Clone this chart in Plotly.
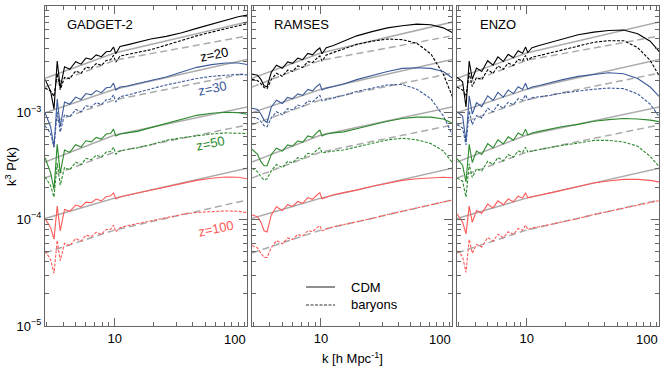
import plotly.graph_objects as go

# ---------------- data (values in units of 1e-4) ----------------
UNIT = 1e-4

# linear-theory reference lines (gray)
K_LIN = [2.9, 4, 6, 10, 16, 25, 40, 65, 106]
lin_z20_cdm = [21.0, 24.2, 29.0, 36.3, 41.5, 47.1, 53.7, 61.7, 70.8]
lin_z20_bar = [17.4, 20.2, 24.4, 31.0, 34.4, 38.0, 42.2, 47.1, 52.5]
lin_z30_cdm = [10.0, 11.4, 13.5, 16.6, 18.9, 21.3, 24.2, 27.7, 31.6]
lin_z30_bar = [7.71, 8.87, 10.6, 13.2, 14.8, 16.5, 18.5, 20.8, 23.5]
lin_z50_cdm = [3.45, 4.02, 4.85, 6.17, 6.95, 7.80, 8.79, 9.98, 11.3]
lin_z50_bar = [2.44, 2.82, 3.39, 4.27, 4.80, 5.36, 6.03, 6.79, 7.67]
lin_z100_cdm = [1.02, 1.15, 1.32, 1.58, 1.80, 2.04, 2.31, 2.64, 3.02]
lin_z100_bar = [0.484, 0.551, 0.647, 0.794, 0.904, 1.02, 1.16, 1.33, 1.52]

# simulation measurements
K_SIM = [2.9, 3.2, 3.4, 3.6, 3.8, 4.1, 4.5, 5.0, 5.5, 6.0, 6.6, 7.2, 7.9, 8.6,
         9.3, 9.8, 10.2, 11, 12.5, 15, 19, 25, 33, 43, 56, 72, 90, 106]

# GADGET-2
g_z20_cdm = [20.5, 15.9, 10.8, 30.5, 17.1, 26.9, 25.5, 30.0, 28.5, 32.5, 31.6, 34.8, 33.5, 37.2, 37.7, 41.3, 35.7, 41.7, 43.2, 45.7, 49.0, 51.9, 56.2, 61.7, 67.6, 74.1, 79.4, 82.2]
g_z20_bar = [17.0, 15.9, 14.2, 23.2, 16.4, 21.4, 20.9, 24.6, 23.4, 26.8, 26.1, 28.8, 27.7, 30.9, 31.3, 34.4, 29.7, 33.9, 35.1, 36.7, 38.9, 43.0, 47.9, 52.5, 56.9, 61.0, 65.3, 68.4]
g_z30_cdm = [10.0, 7.38, 4.76, 13.4, 7.38, 12.6, 12.0, 14.0, 13.3, 15.1, 14.7, 16.1, 15.4, 17.1, 17.3, 18.9, 16.3, 17.4, 17.8, 18.6, 20.0, 21.6, 24.0, 26.6, 28.2, 29.2, 29.2, 28.2]
g_z30_bar = [7.53, 6.40, 4.75, 10.2, 6.58, 9.59, 9.12, 10.7, 10.2, 11.6, 11.3, 12.4, 11.9, 13.2, 13.4, 14.7, 12.6, 14.1, 14.6, 15.5, 16.6, 18.2, 19.5, 20.9, 21.9, 22.6, 22.9, 22.6]
g_z50_cdm = [3.78, 2.74, 1.91, 5.04, 2.71, 4.46, 4.24, 5.00, 4.76, 5.45, 5.32, 5.86, 5.65, 6.30, 6.38, 7.01, 6.05, 6.31, 6.46, 6.68, 7.24, 7.94, 8.71, 9.44, 9.89, 10.1, 10.0, 9.66]
g_z50_bar = [2.50, 2.07, 1.62, 3.39, 2.09, 3.06, 2.91, 3.43, 3.26, 3.72, 3.62, 3.99, 3.84, 4.27, 4.33, 4.74, 4.09, 4.37, 4.52, 4.68, 5.01, 5.50, 5.82, 6.10, 6.31, 6.46, 6.46, 6.38]
g_z100_cdm = [1.02, 0.841, 0.652, 1.33, 0.780, 1.24, 1.19, 1.36, 1.31, 1.45, 1.43, 1.55, 1.49, 1.63, 1.66, 1.77, 1.56, 1.62, 1.68, 1.76, 1.86, 2.00, 2.16, 2.32, 2.43, 2.49, 2.48, 2.40]
g_z100_bar = [0.507, 0.419, 0.311, 0.635, 0.409, 0.596, 0.564, 0.661, 0.625, 0.710, 0.689, 0.755, 0.723, 0.802, 0.807, 0.883, 0.764, 0.832, 0.871, 0.912, 0.977, 1.05, 1.11, 1.16, 1.19, 1.20, 1.19, 1.15]

# RAMSES
r_z20_cdm = [23.0, 22.4, 20.5, 17.9, 17.5, 23.9, 27.9, 26.1, 29.9, 29.0, 32.4, 31.4, 35.9, 34.8, 38.5, 40.4, 35.7, 40.7, 42.7, 46.8, 52.5, 57.5, 62.4, 65.3, 67.6, 66.8, 62.4, 56.2]
r_z20_bar = [20.5, 20.0, 18.7, 17.2, 16.8, 20.5, 23.4, 21.9, 25.1, 24.4, 27.4, 26.5, 30.1, 29.5, 32.4, 34.0, 30.4, 34.7, 36.7, 39.8, 43.7, 46.8, 49.0, 48.4, 44.7, 35.5, 22.9, 14.1]
r_z30_cdm = [11.0, 10.7, 9.73, 8.47, 8.09, 11.3, 13.1, 12.2, 13.9, 13.5, 15.0, 14.5, 16.5, 16.0, 17.7, 18.5, 16.3, 17.0, 17.6, 18.6, 20.4, 22.4, 24.3, 26.0, 26.4, 26.0, 24.3, 21.1]
r_z30_bar = [9.06, 8.83, 8.26, 7.55, 7.38, 8.95, 10.2, 9.55, 10.9, 10.6, 11.8, 11.4, 12.9, 12.6, 13.8, 14.5, 12.9, 13.2, 13.5, 14.5, 15.8, 17.0, 18.2, 18.4, 16.6, 13.5, 9.33, 6.17]
r_z50_cdm = [4.55, 4.06, 3.47, 3.18, 3.18, 4.06, 4.65, 4.36, 4.99, 4.85, 5.45, 5.28, 6.05, 5.87, 6.53, 6.85, 6.05, 6.31, 6.46, 6.61, 7.08, 7.67, 8.32, 8.81, 9.08, 9.08, 8.71, 7.94]
r_z50_bar = [3.01, 2.80, 2.51, 2.34, 2.40, 2.86, 3.27, 3.05, 3.49, 3.39, 3.79, 3.68, 4.16, 4.07, 4.48, 4.69, 4.19, 4.27, 4.37, 4.47, 4.79, 5.13, 5.56, 5.75, 5.56, 5.13, 4.37, 3.39]
r_z100_cdm = [1.10, 1.06, 0.942, 0.782, 0.762, 1.10, 1.31, 1.21, 1.37, 1.32, 1.47, 1.41, 1.60, 1.54, 1.69, 1.77, 1.56, 1.62, 1.70, 1.78, 1.88, 2.04, 2.19, 2.32, 2.40, 2.45, 2.48, 2.45]
r_z100_bar = [0.569, 0.540, 0.482, 0.440, 0.439, 0.543, 0.632, 0.589, 0.670, 0.647, 0.721, 0.697, 0.783, 0.766, 0.836, 0.873, 0.782, 0.813, 0.851, 0.891, 0.955, 1.02, 1.11, 1.19, 1.28, 1.37, 1.46, 1.52]

# ENZO
e_z20_cdm = [21.5, 19.5, 11.3, 30.5, 20.6, 26.2, 24.3, 30.7, 27.9, 33.3, 30.2, 35.2, 32.7, 38.1, 36.0, 41.3, 36.6, 40.7, 42.7, 45.2, 49.0, 53.7, 56.9, 58.9, 59.6, 55.0, 46.8, 37.2]
e_z20_bar = [17.4, 16.3, 14.2, 23.7, 17.6, 21.4, 20.4, 25.2, 23.4, 27.4, 25.5, 29.1, 27.7, 31.6, 30.6, 34.4, 31.1, 33.1, 34.3, 36.3, 38.9, 42.2, 45.7, 47.3, 47.3, 40.7, 30.9, 21.9]
e_z30_cdm = [10.2, 9.29, 5.35, 14.4, 9.73, 12.4, 11.4, 14.4, 13.0, 15.5, 14.0, 16.3, 15.1, 17.5, 16.5, 18.9, 16.7, 17.4, 18.0, 19.1, 20.4, 21.9, 22.9, 23.7, 23.2, 20.9, 17.4, 14.1]
e_z30_bar = [7.71, 7.18, 4.98, 10.4, 7.73, 9.38, 8.91, 11.0, 10.2, 11.9, 11.0, 12.5, 11.9, 13.5, 13.1, 14.7, 13.2, 13.8, 14.1, 14.5, 15.3, 16.0, 16.6, 17.0, 16.8, 15.0, 12.0, 9.12]
e_z50_cdm = [3.70, 3.22, 2.24, 5.04, 3.41, 4.36, 4.05, 5.12, 4.66, 5.57, 5.08, 5.93, 5.52, 6.44, 6.10, 7.01, 6.19, 6.46, 6.68, 7.00, 7.41, 7.76, 8.32, 8.61, 8.81, 8.71, 8.51, 8.22]
e_z50_bar = [2.44, 2.28, 1.62, 3.31, 2.46, 2.99, 2.84, 3.51, 3.26, 3.80, 3.54, 4.04, 3.84, 4.37, 4.23, 4.74, 4.29, 4.37, 4.52, 4.68, 4.95, 5.19, 5.50, 5.50, 5.31, 4.84, 3.89, 3.09]
e_z100_cdm = [1.12, 0.944, 0.731, 1.33, 0.938, 1.21, 1.14, 1.39, 1.28, 1.49, 1.37, 1.55, 1.46, 1.65, 1.58, 1.77, 1.60, 1.62, 1.68, 1.76, 1.88, 2.04, 2.19, 2.29, 2.37, 2.37, 2.32, 2.24]
e_z100_bar = [0.507, 0.449, 0.318, 0.650, 0.481, 0.582, 0.551, 0.676, 0.625, 0.726, 0.673, 0.764, 0.723, 0.820, 0.789, 0.883, 0.800, 0.832, 0.851, 0.891, 0.955, 1.02, 1.11, 1.19, 1.27, 1.36, 1.45, 1.50]

CODES = ["GADGET-2", "RAMSES", "ENZO"]
REDSHIFTS = ["z=20", "z=30", "z=50", "z=100"]
COLORS = ["#000000", "#3c5a9a", "#2b8a2b", "#ff5a5a"]

LIN = [(lin_z20_cdm, lin_z20_bar), (lin_z30_cdm, lin_z30_bar),
       (lin_z50_cdm, lin_z50_bar), (lin_z100_cdm, lin_z100_bar)]
SIM = {
    "GADGET-2": [(g_z20_cdm, g_z20_bar), (g_z30_cdm, g_z30_bar), (g_z50_cdm, g_z50_bar), (g_z100_cdm, g_z100_bar)],
    "RAMSES": [(r_z20_cdm, r_z20_bar), (r_z30_cdm, r_z30_bar), (r_z50_cdm, r_z50_bar), (r_z100_cdm, r_z100_bar)],
    "ENZO": [(e_z20_cdm, e_z20_bar), (e_z30_cdm, e_z30_bar), (e_z50_cdm, e_z50_bar), (e_z100_cdm, e_z100_bar)],
}

# ---------------- figure ----------------
W, H = 664, 373
ML, MR, MT, MB = 45, 5, 6, 47
PW = W - ML - MR
DOMAINS = [[0.0, 0.329], [0.3371, 0.6629], [0.671, 1.0]]
GRAY = "#ababab"

fig = go.Figure()

def sc(vals):
    return [v * UNIT for v in vals]

for p, code in enumerate(CODES):
    xa = "x" if p == 0 else f"x{p+1}"
    ya = "y" if p == 0 else f"y{p+1}"
    for (cdm, bar) in LIN:
        fig.add_trace(go.Scatter(x=K_LIN, y=sc(cdm), mode="lines", xaxis=xa, yaxis=ya,
                                 line=dict(color=GRAY, width=1.5), showlegend=False, hoverinfo="skip"))
        fig.add_trace(go.Scatter(x=K_LIN, y=sc(bar), mode="lines", xaxis=xa, yaxis=ya,
                                 line=dict(color=GRAY, width=1.5, dash="7px,4px"), showlegend=False, hoverinfo="skip"))
    for zi, (cdm, bar) in enumerate(SIM[code]):
        fig.add_trace(go.Scatter(x=K_SIM, y=sc(cdm), mode="lines", xaxis=xa, yaxis=ya,
                                 line=dict(color=COLORS[zi], width=1.1), showlegend=False))
        fig.add_trace(go.Scatter(x=K_SIM, y=sc(bar), mode="lines", xaxis=xa, yaxis=ya,
                                 line=dict(color=COLORS[zi], width=1.1, dash="3px,1.5px"), showlegend=False))

FONT = "Liberation Sans, Arial, Helvetica, sans-serif"
AX = "#666666"
x_minor = [3, 4, 5, 6, 7, 8, 9, 20, 30, 40, 50, 60, 70, 80, 90]
y_minor = [m * 10.0 ** e for e in (-5, -4, -3) for m in range(2, 10)]

layout = dict(width=W, height=H, margin=dict(l=ML, r=MR, t=MT, b=MB, autoexpand=False),
              paper_bgcolor="white", plot_bgcolor="white",
              font=dict(family=FONT, size=13, color="black"), showlegend=False)

for p in range(3):
    xk = "xaxis" if p == 0 else f"xaxis{p+1}"
    yk = "yaxis" if p == 0 else f"yaxis{p+1}"
    ya = "y" if p == 0 else f"y{p+1}"
    xa = "x" if p == 0 else f"x{p+1}"
    layout[xk] = dict(type="log", range=[0.462, 2.022], domain=DOMAINS[p], anchor=ya,
                      showline=True, mirror="ticks", linecolor=AX, linewidth=1.2,
                      ticks="inside", ticklen=8, tickwidth=1, tickcolor=AX,
                      tickmode="array", tickvals=[10], ticktext=["10"],
                      minor=dict(tickmode="array", tickvals=x_minor + [100], ticks="inside", ticklen=4,
                                 tickwidth=1, tickcolor=AX, showgrid=False),
                      showgrid=False, zeroline=False, tickfont=dict(size=13), automargin=False)
    layout[yk] = dict(type="log", range=[-5, -2], domain=[0, 1], anchor=xa,
                      showline=True, mirror="ticks", linecolor=AX, linewidth=1.2,
                      ticks="inside", ticklen=8, tickwidth=1, tickcolor=AX,
                      tickmode="array", tickvals=[1e-5, 1e-4, 1e-3, 1e-2],
                      ticktext=["10<sup>\u22125</sup>", "10<sup>\u22124</sup>", "10<sup>\u22123</sup>", "0.01"],
                      showticklabels=(p == 0),
                      minor=dict(tickmode="array", tickvals=y_minor, ticks="inside", ticklen=4,
                                 tickwidth=1, tickcolor=AX, showgrid=False),
                      showgrid=False, zeroline=False, tickfont=dict(size=13), automargin=False)

def px(x):
    return (x - ML) / PW

def py(y):
    return (H - MB - y) / (H - MT - MB)

ann = []
# right-aligned "100" labels
for p in range(3):
    ann.append(dict(text="100", xref="paper", yref="paper", x=DOMAINS[p][1] + 0.002, y=py(339),
                    xanchor="right", yanchor="middle", showarrow=False, font=dict(size=13)))
# panel titles
for p, (code, x0) in enumerate(zip(CODES, [65, 272, 478])):
    ann.append(dict(text=code, xref="paper", yref="paper", x=px(x0), y=py(24),
                    xanchor="left", yanchor="middle", showarrow=False, font=dict(size=13)))
# redshift labels
for zi, (zl, (zx, zy)) in enumerate(zip(REDSHIFTS, [(214, 55), (212, 88), (210, 143), (216, 228)])):
    ann.append(dict(text=zl, xref="paper", yref="paper", x=px(zx), y=py(zy), textangle=-12,
                    xanchor="center", yanchor="middle", showarrow=False,
                    font=dict(size=13, color=COLORS[zi])))
# axis titles
ann.append(dict(text="k [h Mpc<sup>-1</sup>]", xref="paper", yref="paper", x=px(352), y=py(358),
                xanchor="center", yanchor="middle", showarrow=False, font=dict(size=13)))
ann.append(dict(text="k<sup>3</sup> P(k)", xref="paper", yref="paper", x=px(11), y=py(167),
                xanchor="center", yanchor="middle", textangle=-90, showarrow=False, font=dict(size=13)))
# legend
ann.append(dict(text="CDM", xref="paper", yref="paper", x=px(349), y=py(287),
                xanchor="left", yanchor="middle", showarrow=False, font=dict(size=13)))
ann.append(dict(text="baryons", xref="paper", yref="paper", x=px(349), y=py(304),
                xanchor="left", yanchor="middle", showarrow=False, font=dict(size=13)))
layout["annotations"] = ann
layout["shapes"] = [
    dict(type="line", xref="paper", yref="paper", x0=px(306), x1=px(335), y0=py(287), y1=py(287),
         line=dict(color="#333333", width=1.1)),
    dict(type="line", xref="paper", yref="paper", x0=px(306), x1=px(335), y0=py(305), y1=py(305),
         line=dict(color="#333333", width=1.1, dash="3px,1.5px")),
]

fig.update_layout(**layout)
fig.write_html("out.html", config={"displayModeBar": False},
               post_script="document.body.style.margin='0px';document.body.style.padding='0px';")
